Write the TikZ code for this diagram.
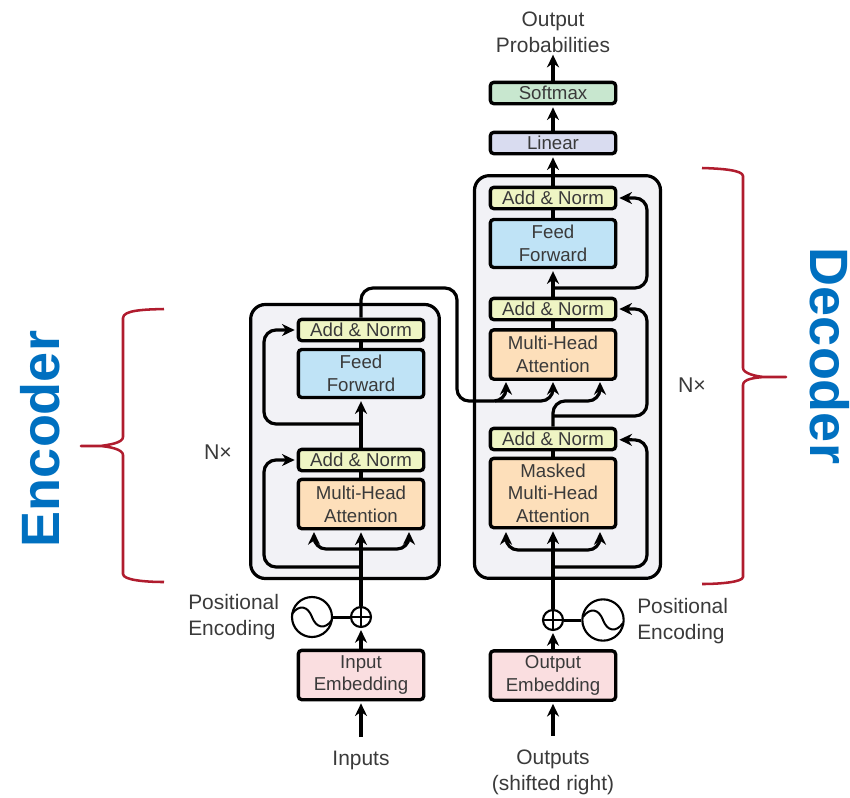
\documentclass[tikz,border=0pt]{standalone}
\usepackage{fontspec}
\setmainfont{Liberation Sans}
\usetikzlibrary{arrows.meta}
\definecolor{ink}{HTML}{3A3A3A}
\definecolor{blockbg}{HTML}{F2F2F6}
\definecolor{ancol}{HTML}{EFF5C4}
\definecolor{ffcol}{HTML}{BFE3F6}
\definecolor{mhacol}{HTML}{FDDFBA}
\definecolor{embcol}{HTML}{FADEE0}
\definecolor{softcol}{HTML}{C8E7CF}
\definecolor{lincol}{HTML}{D9DCF0}
\definecolor{bracecol}{HTML}{B01C2E}
\definecolor{titlecol}{HTML}{0070C0}
\tikzset{
  x=0.75pt,y=-0.75pt,
  box/.style={draw=black,line width=2.5pt,rounded corners=2.6pt,inner sep=0pt,align=center,
    minimum width=94pt,text=ink,font=\fontsize{14}{17}\selectfont},
  anbox/.style={box,fill=ancol,minimum height=16pt},
  ffbox/.style={box,fill=ffcol,minimum height=36pt},
  mhabox/.style={box,fill=mhacol,minimum height=37pt},
  maskbox/.style={box,fill=mhacol,minimum height=52pt},
  embbox/.style={box,fill=embcol,minimum height=37pt},
  softbox/.style={box,fill=softcol,minimum height=16pt},
  linbox/.style={box,fill=lincol,minimum height=16pt},
  block/.style={draw=black,line width=2.4pt,fill=blockbg,rounded corners=11pt,inner sep=0pt},
  lab/.style={inner sep=0pt,text=ink,font=\fontsize{15.7}{19.5}\selectfont},
  nlab/.style={inner sep=0pt,text=ink,font=\fontsize{16}{18}\selectfont},
  title/.style={inner sep=0pt,text=titlecol,font=\fontsize{40.5}{41}\selectfont\bfseries},
  wire/.style={line width=2.4pt,rounded corners=9pt},
  arr/.style={wire,-{Stealth[length=9.5pt,width=9pt,inset=3pt]},shorten >=1.5pt},
  ring/.style={circle,draw=black,line width=1.6pt,inner sep=0pt,fill=white},
  bracepath/.style={draw=bracecol,line width=1.9pt,line join=round},
}
\begin{document}
\begin{tikzpicture}
\useasboundingbox (0,0) rectangle (850,797);
% blocks
\node[block,minimum width=141.5pt,minimum height=205.5pt] (encblock) at (345,441.5) {};
\node[block,minimum width=139.5pt,minimum height=302pt] (decblock) at (567.5,377) {};
% encoder nodes
\node[anbox] (ean1) at (361,330) {Add \& Norm};
\node[ffbox] (eff) at (361,373.5) {Feed\\Forward};
\node[anbox] (ean2) at (361,460) {Add \& Norm};
\node[mhabox] (emha) at (361,504) {Multi-Head\\Attention};
\node[embbox] (eemb) at (361,675) {Input\\Embedding};
\node[ring,minimum size=15pt] (eplus) at (361,617) {};
\node[ring,minimum size=30pt] (esin) at (312,617) {};
% decoder nodes
\node[anbox] (dan1) at (553,198) {Add \& Norm};
\node[ffbox] (dff) at (553,243.5) {Feed\\Forward};
\node[anbox] (dan2) at (553,309) {Add \& Norm};
\node[mhabox] (dmha) at (553,354.5) {Multi-Head\\Attention};
\node[anbox] (dan3) at (553,439) {Add \& Norm};
\node[maskbox] (dmask) at (553,493) {Masked\\Multi-Head\\Attention};
\node[embbox] (demb) at (553,675.5) {Output\\Embedding};
\node[softbox] (soft) at (553,93) {Softmax};
\node[linbox] (lin) at (553,143) {Linear};
\node[ring,minimum size=15pt] (dplus) at (553,620) {};
\node[ring,minimum size=31pt] (dsin) at (603,620) {};
% labels
\node[lab,align=center] (probs) at (553,32) {Output\\Probabilities};
\node[lab] (inputs) at (361,760) {Inputs};
\node[lab,align=center] (outputs) at (553,772) {Outputs\\(shifted right)};
\node[lab,align=left,anchor=west] (epos) at (188,617) {Positional\\Encoding};
\node[lab,align=left,anchor=west] (dpos) at (637,621) {Positional\\Encoding};
\node[nlab] (enx) at (218,452) {N×};
\node[nlab] (dnx) at (692,385) {N×};
\node[title,rotate=90,anchor=base] (enctitle) at (59,439) {Encoder};
\node[title,rotate=-90,anchor=base] (dectitle) at (810,356) {Decoder};
% branch coordinates
\coordinate (e1) at (361,549);
\coordinate (e2) at (361,567);
\coordinate (e3) at (361,424);
\coordinate (d1) at (553,550);
\coordinate (d2) at (553,567);
\coordinate (d3) at (553,416);
\coordinate (d4) at (553,288);
\coordinate (emhaL) at (314,530);
\coordinate (emhaR) at (409,530);
\coordinate (dmaskL) at (506,530);
\coordinate (dmaskR) at (600,530);
\coordinate (dmhaL) at (506,380);
\coordinate (dmhaC) at (553,380);
\coordinate (dmhaR) at (600,380);
% encoder connectors
\draw[arr,shorten <=10pt] (inputs) -- (eemb);
\draw[arr] (eemb) -- (eplus);
\draw[arr] (eplus) -- (emha);
\draw[arr] (e1) -- (314,549) -- (emhaL);
\draw[arr] (e1) -- (409,549) -- (emhaR);
\draw[arr] (e2) -- (264,567) -- (264,460) -- (ean2);
\draw[wire] (emha) -- (ean2);
\draw[arr] (ean2) -- (eff);
\draw[arr] (e3) -- (264,424) -- (264,330) -- (ean1);
\draw[wire] (eff) -- (ean1);
\draw[arr] (ean1.north) -- (361,288) -- (457,288) -- (457,401) -- (506,401) -- (dmhaL);
\draw[arr] (495,401) -- (553,401) -- (dmhaC);
% decoder connectors
\draw[arr,shorten <=10pt] (outputs) -- (demb);
\draw[arr] (demb) -- (dplus);
\draw[arr] (dplus) -- (dmask);
\draw[arr] (d1) -- (506,550) -- (dmaskL);
\draw[arr] (d1) -- (600,550) -- (dmaskR);
\draw[arr] (d2) -- (647,567) -- (647,440) -- (dan3);
\draw[wire] (dmask) -- (dan3);
\draw[arr] (dan3.north) -- (553,401) -- (600,401) -- (dmhaR);
\draw[arr] (d3) -- (647,416) -- (647,309) -- (dan2);
\draw[wire] (dmha) -- (dan2);
\draw[arr] (dan2) -- (dff);
\draw[arr] (d4) -- (647,288) -- (647,198) -- (dan1);
\draw[wire] (dff) -- (dan1);
\draw[arr] (dan1) -- (lin);
\draw[arr] (lin) -- (soft);
\draw[arr] (soft) -- (probs);
% positional encoding
\draw[line width=2.25pt] (esin.east) -- (eplus.west);
\draw[line width=2.25pt] (dsin.west) -- (dplus.east);
\draw[line width=1.4pt] (eplus.north) -- (eplus.south) (eplus.west) -- (eplus.east);
\draw[line width=1.4pt] (dplus.north) -- (dplus.south) (dplus.west) -- (dplus.east);
\draw[line width=1.5pt,shift={(esin)}] (-20,-3) .. controls (-13,-13) and (-4,-11) .. (0,0) .. controls (4,11) and (13,13) .. (20,3);
\draw[line width=1.5pt,shift={(dsin)}] (-20,-3) .. controls (-13,-13) and (-4,-11) .. (0,0) .. controls (4,11) and (13,13) .. (20,3);
% braces
\draw[bracepath] (164,309) .. controls (145,309.5) and (123,310) .. (123,318) -- (123,437) .. controls (123,443) and (108,445) .. (100,446) -- (81,446) -- (100,446) .. controls (108,446.5) and (123,449) .. (123,455) -- (123,574) .. controls (123,580) and (145,582) .. (164,582);
\draw[bracepath] (702,168) .. controls (720,168.5) and (743,170) .. (743,176) -- (743,368) .. controls (743,373) and (755,376.5) .. (765,377) -- (786,377) -- (765,377) .. controls (755,377.5) and (743,379) .. (743,385) -- (743,577) .. controls (743,582) and (720,584) .. (702,584);
\end{tikzpicture}
\end{document}
